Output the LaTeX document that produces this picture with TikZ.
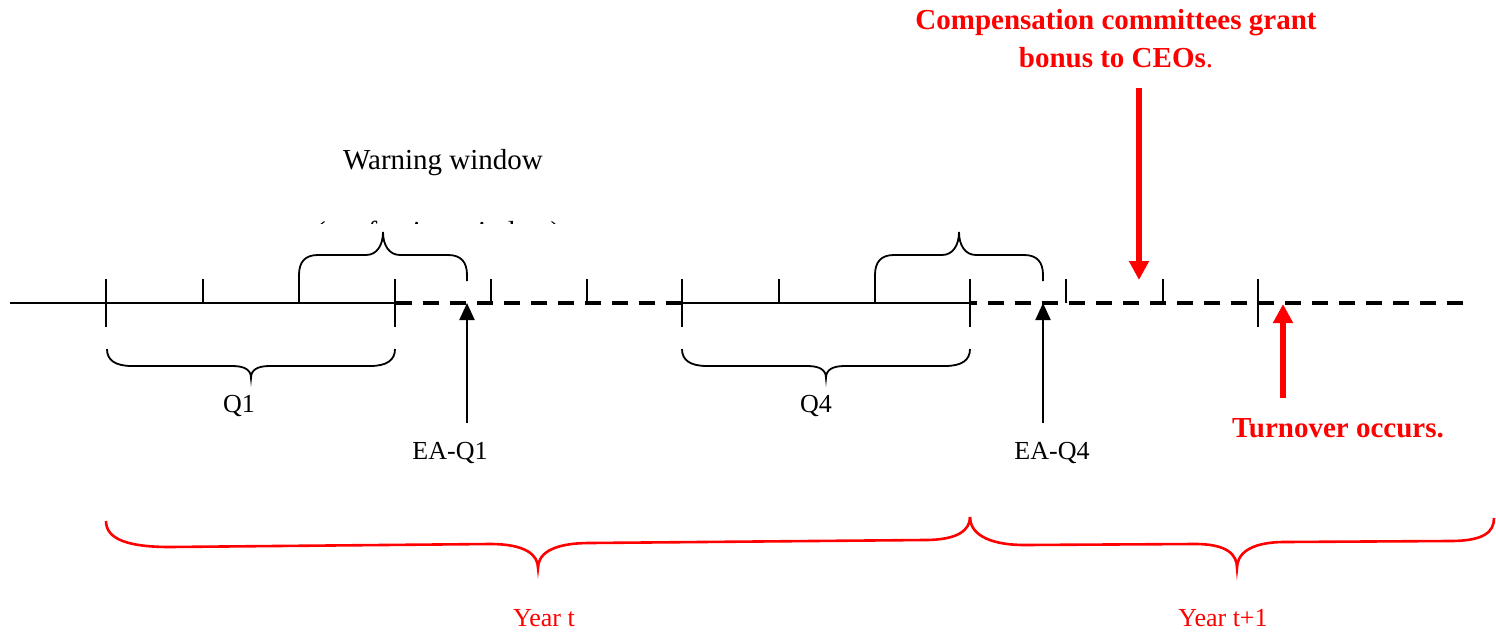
\documentclass[tikz,border=0pt]{standalone}
\usepackage{fontspec}
\setmainfont{Liberation Serif}
\usetikzlibrary{arrows.meta}
\begin{document}
\begin{tikzpicture}[x=1pt,y=-1pt,
  solidline/.style={line width=2pt},
  dashline/.style={line width=4pt,dash pattern=on 16pt off 11pt},
  tickmark/.style={line width=1.5pt},
  bbrace/.style={line width=1.8pt},
  rbrace/.style={line width=2.6pt,red},
  blackarrow/.style={line width=2pt,-{Triangle[length=17pt,width=15pt]}},
  redarrow/.style={line width=6pt,red,-{Triangle[length=19pt,width=19pt]}},
  lbl/.style={inner sep=0pt,anchor=base,font=\fontsize{26}{30}\selectfont},
  wlbl/.style={inner sep=0pt,anchor=base,font=\fontsize{29}{33}\selectfont},
  redlbl/.style={inner sep=0pt,anchor=base,text=red,font=\fontsize{29}{37}\selectfont\bfseries},
  redyear/.style={inner sep=0pt,anchor=base,text=red,font=\fontsize{26}{30}\selectfont},
]
\useasboundingbox (0,0) rectangle (1496,634);

% timeline
\draw[solidline] (10,303) -- (396,303);
\draw[dashline] (682,303) -- (395,303);
\draw[solidline] (681,303) -- (971,303);
\draw[dashline] (1463,303) -- (970,303);

% ticks
\foreach \x in {106,395,682,970,1258} \draw[tickmark] (\x,279) -- (\x,327);
\foreach \x in {203,491,587,779,1066,1163} \draw[tickmark] (\x,279) -- (\x,303);

% warning-window braces (above)
\foreach \s in {0,576} {
  \draw[bbrace,xshift=\s pt] (299,303) -- (299,275)
    .. controls (299,262) and (305,255) .. (318,255) -- (366,255)
    .. controls (377,255) and (383,245) .. (383,232)
    .. controls (383,245) and (389,255) .. (400,255) -- (448,255)
    .. controls (461,255) and (467,262) .. (467,275) -- (467,281);
}

% quarter braces (below)
\foreach \s in {0,575} {
  \draw[bbrace,xshift=\s pt] (107,349)
    .. controls (107,360) and (115,366) .. (132,366) -- (232,366)
    .. controls (245,366) and (251,370) .. (251,378)
    .. controls (251,370) and (257,366) .. (270,366) -- (370,366)
    .. controls (387,366) and (395,360) .. (395,349);
}

% clipped caption
\begin{scope}
  \clip (300,216) rectangle (580,223.5);
  \node[wlbl,anchor=base west] (conf) at (316,241) {(confession window)};
\end{scope}
\node[wlbl] (warn) at (443,169) {Warning window};

% quarter labels
\node[lbl] (q1) at (239,412) {Q1};
\node[lbl] (q4) at (816,412) {Q4};
\node[lbl] (eaq1) at (450,459) {EA-Q1};
\node[lbl] (eaq4) at (1052,459) {EA-Q4};

% black arrows
\coordinate (a1s) at (467,423); \coordinate (a1e) at (467,303);
\coordinate (a4s) at (1043,423); \coordinate (a4e) at (1043,303);
\draw[blackarrow] (a1s) -- (a1e);
\draw[blackarrow] (a4s) -- (a4e);

% red texts and arrows
\node[redlbl] (comp1) at (1116,30) {Compensation committees grant};
\node[redlbl] (comp2) at (1116,67) {bonus to CEOs\textmd{.}};
\coordinate (rds) at (1139,88); \coordinate (rde) at (1139,280);
\draw[redarrow] (rds) -- (rde);

\node[redlbl] (turn) at (1338,437) {Turnover occurs.};
\coordinate (rus) at (1283,398); \coordinate (rue) at (1283,304);
\draw[redarrow] (rus) -- (rue);

% year braces
\draw[rbrace] (106,521)
  .. controls (106,540) and (130,547) .. (170,547) -- (490,544)
  .. controls (526,544) and (538,555) .. (538,568)
  .. controls (538,555) and (550,543) .. (590,543) -- (925,540)
  .. controls (958,540) and (970,530) .. (970,517);
\draw[rbrace] (970,517)
  .. controls (970,532) and (985,545) .. (1025,545) -- (1195,544)
  .. controls (1228,544) and (1237,555) .. (1237,568)
  .. controls (1237,555) and (1248,542) .. (1285,542) -- (1450,541)
  .. controls (1484,541) and (1494,532) .. (1494,518);

\node[redyear] (yt) at (544,626) {Year t};
\node[redyear] (yt1) at (1223,626) {Year t+1};
\end{tikzpicture}
\end{document}
